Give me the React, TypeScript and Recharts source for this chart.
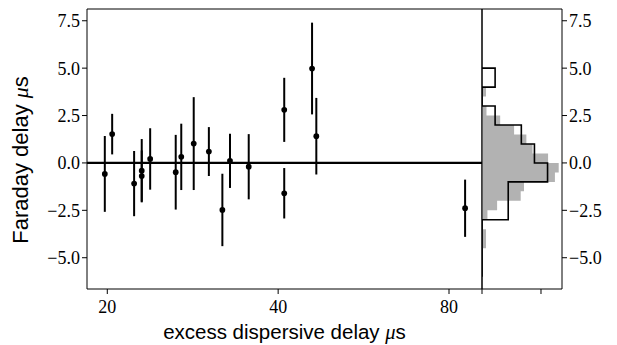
import React from 'react'
import { ComposedChart, Scatter, ErrorBar, XAxis, YAxis, ZAxis, ReferenceLine, Area, Line } from 'recharts'

// excess dispersive delay (us), Faraday delay (us) and its error, one entry per burst
const dispersiveDelay = [19.8, 20.4, 22.3, 23.0, 23.0, 23.8, 26.4, 27.0, 28.4, 30.2, 31.9, 32.9, 35.5, 41.0, 41.0, 45.9, 46.7, 85.4]
const faradayDelay = [-0.58, 1.52, -1.09, -0.41, -0.69, 0.21, -0.49, 0.32, 1.02, 0.6, -2.48, 0.11, -0.2, 2.8, -1.6, 4.98, 1.41, -2.39]
const faradayErr = [2.0, 1.07, 1.72, 1.67, 1.35, 1.62, 1.97, 1.75, 2.45, 1.29, 1.91, 1.43, 1.72, 1.69, 1.33, 2.42, 2.02, 1.51]

const xTicks = [20, 40, 80]
const yTicks = [-5, -2.5, 0, 2.5, 5, 7.5]
const histTicks = [0, 0.25]

// grey histogram (density), 0.5 wide bins starting at -4.5
const greyStart = -4.5
const greyDensity = [0.017, 0.017, 0, 0.023, 0.064, 0.164, 0.178, 0.309, 0.325, 0.28, 0.214, 0.188, 0.136, 0.077, 0.019, 0, 0.017]
// black step histogram bin edges
const stepEdges = [-6, -5, -4, -3, -2, -1, 0, 1, 2, 3, 4, 5]

const X_DOMAIN: [number, number] = [18.42, 91.46]
const Y_DOMAIN: [number, number] = [-6.65, 8.12]
const H_DOMAIN: [number, number] = [0, 0.339]
const serif = 'Liberation Serif'
const sans = 'Liberation Sans'
const tickStyle = { fontFamily: serif, fontSize: 18, fill: '#000' }

const points = dispersiveDelay.map((x, i) => ({ x, y: faradayDelay[i], err: faradayErr[i] }))

// counts per 1.0 bin -> density
const stepDensity = stepEdges.slice(0, -1).map((lo, k) => {
  const hi = stepEdges[k + 1]
  const n = faradayDelay.filter(v => v >= lo && (v < hi || (k === stepEdges.length - 2 && v <= hi))).length
  return n / (faradayDelay.length * (hi - lo))
})

const histRows: { y: number; grey: number; step: number }[] = [{ y: -6, grey: 0, step: 0 }]
for (let e = -6; e < 5; e += 0.5) {
  const gi = (e - greyStart) / 0.5
  const g = gi >= 0 && gi < greyDensity.length ? greyDensity[gi] : 0
  const k = stepEdges.findIndex((lo, j) => j < stepEdges.length - 1 && e >= lo && e < stepEdges[j + 1])
  const s = k >= 0 ? stepDensity[k] : 0
  histRows.push({ y: e, grey: g, step: s }, { y: e + 0.5, grey: g, step: s })
}
histRows.push({ y: 5, grey: 0, step: 0 })

const fmt = (v: number) => v.toFixed(1).replace('-', '\u2212')

const XLabel = (props: any) => {
  const vb = props.viewBox
  return (
    <text x={vb.x + vb.width / 2} y={vb.y + 50} textAnchor="middle" fontFamily={sans} fontSize={20.5} fill="#000">
      excess dispersive delay <tspan fontFamily={serif} fontStyle="italic">μ</tspan>s
    </text>
  )
}

const YLabel = (props: any) => {
  const vb = props.viewBox
  const cx = 20
  const cy = vb.y + vb.height / 2 + 11
  return (
    <text x={cx} y={cy} transform={`rotate(-90 ${cx} ${cy})`} textAnchor="middle" fontFamily={sans} fontSize={22} fill="#000">
      Faraday delay <tspan fontFamily={serif} fontStyle="italic">μ</tspan>s
    </text>
  )
}

export default function App() {
  return (
    <div style={{ position: 'relative', width: 609, height: 337 }}>
      <div style={{ position: 'absolute', left: 0, top: 0 }}>
        <ComposedChart width={475} height={337} data={points} margin={{ top: 1, right: 1, bottom: 0, left: 0 }}>
          <XAxis
            dataKey="x"
            type="number"
            scale="log"
            domain={X_DOMAIN}
            allowDataOverflow
            ticks={xTicks}
            height={56}
            stroke="#000"
            tickSize={5}
            tickMargin={6}
            tick={tickStyle}
            label={<XLabel />}
          />
          <YAxis
            dataKey="y"
            type="number"
            domain={Y_DOMAIN}
            allowDataOverflow
            ticks={yTicks}
            width={79}
            stroke="#000"
            tickSize={5}
            tickMargin={2}
            tick={tickStyle}
            tickFormatter={fmt}
            label={<YLabel />}
          />
          <ZAxis range={[26, 26]} />
          <ReferenceLine y={Y_DOMAIN[1]} stroke="#000" strokeWidth={1} ifOverflow="visible" />
          <ReferenceLine x={X_DOMAIN[1]} stroke="#000" strokeWidth={1} ifOverflow="visible" />
          <ReferenceLine y={0} stroke="#000" strokeWidth={2.2} />
          <Scatter dataKey="y" fill="#000" isAnimationActive={false}>
            <ErrorBar dataKey="err" direction="y" width={0} stroke="#000" strokeWidth={2} />
          </Scatter>
        </ComposedChart>
      </div>
      <div style={{ position: 'absolute', left: 469, top: 0 }}>
        <ComposedChart width={140} height={337} layout="vertical" data={histRows} margin={{ top: 1, right: 0, bottom: 0, left: 5 }}>
          <XAxis
            type="number"
            domain={H_DOMAIN}
            allowDataOverflow
            ticks={histTicks}
            tickFormatter={() => ''}
            height={56}
            stroke="#000"
            tickSize={5}
          />
          <YAxis
            dataKey="y"
            type="number"
            orientation="right"
            reversed
            domain={Y_DOMAIN}
            allowDataOverflow
            ticks={yTicks}
            width={55}
            stroke="#000"
            tickSize={5}
            tickMargin={2}
            tick={tickStyle}
            tickFormatter={fmt}
          />
          <ReferenceLine y={Y_DOMAIN[1]} stroke="#000" strokeWidth={1} ifOverflow="visible" />
          <ReferenceLine x={0} stroke="#000" strokeWidth={1} ifOverflow="visible" />
          <Area dataKey="grey" type="linear" fill="#b2b2b2" fillOpacity={1} stroke="none" isAnimationActive={false} />
          <Line dataKey="step" type="linear" stroke="#000" strokeWidth={1.6} dot={false} isAnimationActive={false} />
        </ComposedChart>
      </div>
    </div>
  )
}
